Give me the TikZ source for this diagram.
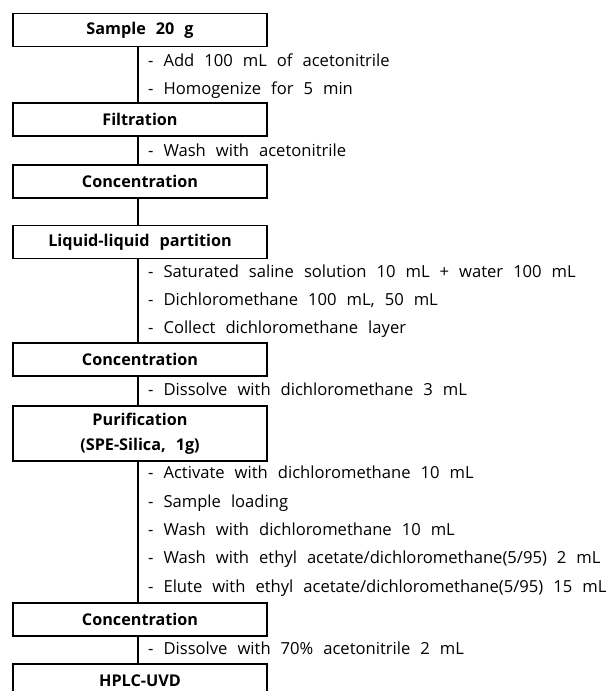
\documentclass[tikz,border=0pt]{standalone}
\usepackage{fontspec}
\setmainfont{Open Sans}
\newcommand\widesp{\spaceskip=10pt plus 1pt minus 1pt\relax}
\begin{document}
\begin{tikzpicture}[x=1pt,y=-1pt,
  stepbox/.style={draw,line width=1.2pt,minimum width=254pt,minimum height=33pt,inner sep=0pt,
    font=\fontsize{16.2}{25}\selectfont\bfseries\widesp,align=center},
  tallbox/.style={stepbox,minimum height=55pt},
  note/.style={anchor=west,inner sep=0pt,text height=12pt,text depth=4pt,
    font=\fontsize{16.6}{20}\selectfont\widesp},
  link/.style={line width=1.2pt}]
\clip (0,0) rectangle (613,691);
\useasboundingbox (0,0) rectangle (613,691);
\node[stepbox] (s1) at (140,30) {Sample 20 g};
\node[stepbox] (s2) at (140,119.5) {Filtration};
\node[stepbox] (s3) at (140,181.5) {Concentration};
\node[stepbox] (s4) at (140,242) {Liquid-liquid partition};
\node[stepbox] (s5) at (140,359.5) {Concentration};
\node[tallbox] (s6) at (140,433.5) {Purification\\(SPE-Silica, 1g)};
\node[stepbox] (s7) at (140,619.5) {Concentration};
\node[stepbox] (s8) at (140,680.5) {HPLC-UVD};
\foreach \a/\b in {s1/s2,s2/s3,s3/s4,s4/s5,s5/s6,s6/s7,s7/s8}
  \draw[link] ([xshift=-2pt]\a.south) -- ([xshift=-2pt]\b.north);
\node[note] (n1) at (148,62) {- Add 100 mL of acetonitrile};
\node[note] (n2) at (148,90) {- Homogenize for 5 min};
\node[note] (n3) at (148,152) {- Wash with acetonitrile};
\node[note] (n4) at (148,273) {- Saturated saline solution 10 mL + water 100 mL};
\node[note] (n5) at (148,301) {- Dichloromethane 100 mL, 50 mL};
\node[note] (n6) at (148,329) {- Collect dichloromethane layer};
\node[note] (n7) at (148,391) {- Dissolve with dichloromethane 3 mL};
\node[note] (n8) at (148,474) {- Activate with dichloromethane 10 mL};
\node[note] (n9) at (148,503) {- Sample loading};
\node[note] (n10) at (148,531) {- Wash with dichloromethane 10 mL};
\node[note] (n11) at (148,559) {- Wash with ethyl acetate/dichloromethane(5/95) 2 mL};
\node[note] (n12) at (148,588) {- Elute with ethyl acetate/dichloromethane(5/95) 15 mL};
\node[note] (n13) at (148,650) {- Dissolve with 70\% acetonitrile 2 mL};
\end{tikzpicture}
\end{document}
